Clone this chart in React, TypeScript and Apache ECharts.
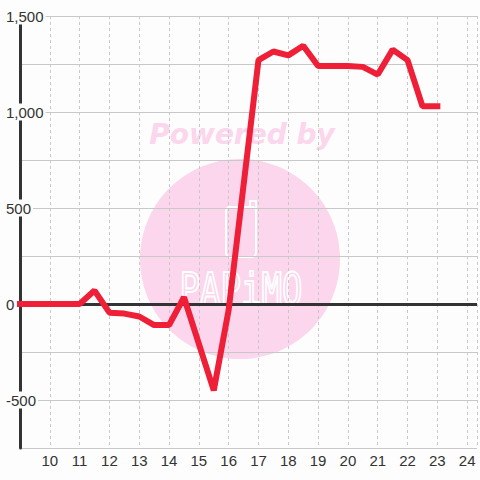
import React, { useEffect, useRef } from "react";
import * as echarts from "echarts";

const hours: number[] = [9, 9.5, 10, 10.5, 11, 11.5, 12, 12.5, 13, 13.5, 14, 14.5, 15.5, 16, 17, 17.5, 18, 18.5, 19, 19.5, 20, 20.5, 21, 21.5, 22, 22.5, 23];
const values: number[] = [0, 0, 0, 0, 0, 70, -45, -50, -65, -110, -110, 35, -450, -30, 1270, 1315, 1295, 1345, 1240, 1240, 1240, 1235, 1195, 1325, 1270, 1030, 1030];
const yLabelValues: number[] = [-500, 0, 500, 1000, 1500];
const xTickLabels: number[] = [10, 11, 12, 13, 14, 15, 16, 17, 18, 19, 20, 21, 22, 23, 24];
const baseline: number = 0;

const BG = "#fcfdfc";
const PINK = "#fbd6ec";

export default function App() {
  const ref = useRef<HTMLDivElement>(null);
  useEffect(() => {
    if (!ref.current) return;
    const chart = echarts.init(ref.current, undefined, { renderer: "svg" });
    const data = hours.map((h, i) => [h, values[i]]);
    const fmtY = (v: number) => {
      if (!yLabelValues.includes(v)) return "";
      return v.toLocaleString("en-US");
    };
    chart.setOption({
      animation: false,
      backgroundColor: BG,
      graphic: [
        {
          type: "circle",
          z: -10,
          shape: { cx: 240, cy: 259, r: 100 },
          style: { fill: PINK },
          silent: true,
        },
        {
          type: "text",
          z: -10,
          x: 242,
          y: 134,
          style: {
            text: "Powered by",
            fill: PINK,
            font: "italic bold 28px 'DejaVu Sans'",
            align: "center",
            verticalAlign: "middle",
          },
          silent: true,
        },
        {
          type: "rect",
          z: -9,
          shape: { x: 226, y: 207, width: 30, height: 50, r: 4 },
          style: { fill: "none", stroke: "#ffffff", lineWidth: 2 },
          silent: true,
        },
        {
          type: "polyline",
          z: -9,
          shape: { points: [[250, 207], [250, 201], [256, 201], [256, 212]] },
          style: { fill: "none", stroke: "#ffffff", lineWidth: 2 },
          silent: true,
        },
        {
          type: "text",
          z: -9,
          x: 241,
          y: 289,
          scaleY: 1.3,
          style: {
            text: "PAPiMO",
            fill: "none",
            stroke: "#ffffff",
            lineWidth: 1.6,
            font: "normal 34px 'DejaVu Sans Mono'",
            align: "center",
            verticalAlign: "middle",
          },
          silent: true,
        },
      ],
      grid: { left: 20, right: 0, top: 16, bottom: 32, containLabel: false },
      xAxis: {
        type: "value",
        min: 9,
        max: 24.33,
        interval: 1,
        axisLine: { show: false },
        axisTick: { show: false },
        axisLabel: {
          color: "#333",
          fontSize: 15,
          fontFamily: "'Liberation Sans', Arial, sans-serif",
          margin: 5,
          showMinLabel: false,
          formatter: (v: number) => (xTickLabels.includes(v) ? String(v) : ""),
        },
        splitLine: {
          show: true,
          lineStyle: { color: "#c8c8c8", width: 1, type: [3, 3] },
        },
      },
      yAxis: {
        type: "value",
        min: -750,
        max: 1500,
        interval: 250,
        axisLine: { show: true, lineStyle: { color: "#333", width: 3 } },
        axisTick: { show: false },
        axisLabel: {
          color: "#333",
          fontSize: 15,
          fontFamily: "'Liberation Sans', Arial, sans-serif",
          align: "left",
          margin: 15,
          backgroundColor: BG,
          padding: [1, 2, 1, 1],
          formatter: fmtY,
        },
        splitLine: { show: true, lineStyle: { color: "#c8c8c8", width: 1 } },
      },
      series: [
        {
          type: "line",
          data: [],
          z: 1,
          silent: true,
          markLine: {
            silent: true,
            symbol: "none",
            label: { show: false },
            lineStyle: { color: "#333", width: 3, type: "solid" },
            data: [{ yAxis: baseline }],
          },
        },
        {
          type: "line",
          data,
          showSymbol: false,
          symbol: "none",
          lineStyle: { color: "#ee1f37", width: 6, cap: "square" },
          z: 5,
        },
      ],
    });
    return () => chart.dispose();
  }, []);
  return (
    <div
      ref={ref}
      style={{ position: "fixed", left: 0, top: 0, width: 480, height: 480 }}
    />
  );
}
